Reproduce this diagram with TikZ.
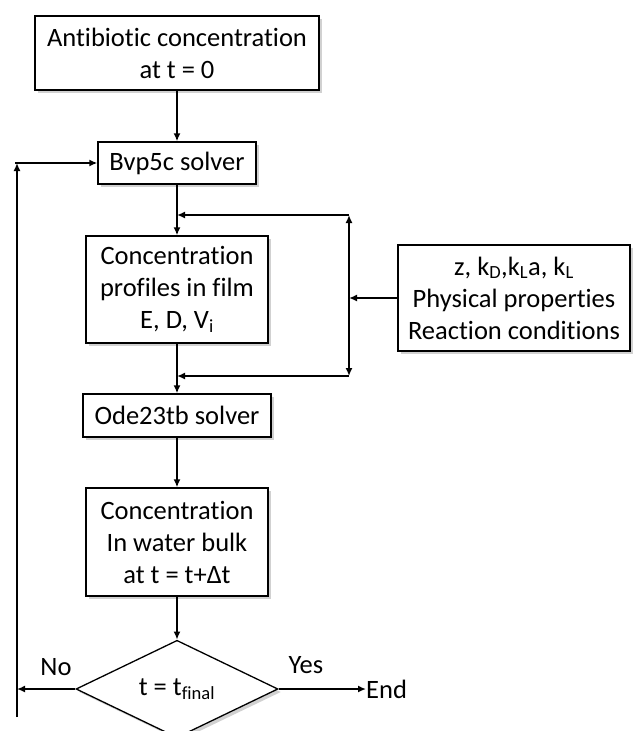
\documentclass[tikz,border=0pt]{standalone}
\usepackage{fontspec}
\setmainfont[Ligatures=NoCommon]{Carlito}
\usetikzlibrary{arrows.meta,shapes.geometric,shadows}
\begin{document}
\begin{tikzpicture}[x=1pt,y=-1pt,
  box/.style={draw=black,line width=1.3pt,fill=white,inner sep=0pt,align=center,
    font=\fontsize{26.5}{32}\selectfont,
    drop shadow={fill=black,opacity=0.18,shadow xshift=3pt,shadow yshift=-3pt}},
  dia/.style={draw=black,line width=1.3pt,fill=white,diamond,inner sep=0pt,
    font=\fontsize{26.5}{32}\selectfont,
    drop shadow={fill=black,opacity=0.18,shadow xshift=3pt,shadow yshift=-3pt}},
  lbl/.style={inner sep=0pt,font=\fontsize{26.5}{32}\selectfont},
  arr/.style={line width=1.8pt,-{Latex[length=8pt,width=7pt]}},
  ln/.style={line width=1.8pt}]
\useasboundingbox (0,0) rectangle (635,731);
\node[box,minimum width=284pt,minimum height=74pt] (init) at (177,53) {Antibiotic concentration\\at t = 0};
\node[box,minimum width=158pt,minimum height=42pt] (bvp) at (177,163) {Bvp5c solver};
\node[box,minimum width=182pt,minimum height=107pt] (prof) at (177,289.5) {Concentration\\profiles in film\\E, D, V\textsubscript{i}};
\node[box,minimum width=232pt,minimum height=106pt] (par) at (514,298) {z, k\textsubscript{D},k\textsubscript{L}a, k\textsubscript{L}\\Physical properties\\Reaction conditions};
\node[box,minimum width=188pt,minimum height=43pt] (ode) at (177,415.5) {Ode23tb solver};
\node[box,minimum width=182pt,minimum height=108pt] (bulk) at (177,542) {Concentration\\In water bulk\\at t = t+Δt};
\node[dia,minimum width=202pt,minimum height=82pt] (dec) at (177,689) {t = t\textsubscript{final}};
\node[lbl] (no) at (56,667) {No};
\node[lbl] (yes) at (306,665) {Yes};
\node[lbl,anchor=west] (end) at (366,689) {End};
% coordinates
\coordinate (j1) at (177,215);
\coordinate (j2) at (177,376);
\coordinate (r1) at (349,215);
\coordinate (r2) at (349,376);
\coordinate (rm) at (349,298);
\coordinate (lb) at (17,717);
\coordinate (lt) at (17,163);
\coordinate (ls) at (15,163);
\coordinate (ln) at (17,689);
% main flow
\draw[arr] (init) -- (bvp);
\draw[arr] (bvp) -- (prof);
\draw[arr] (prof) -- (ode);
\draw[arr] (ode) -- (bulk);
\draw[arr] (bulk) -- (dec);
% parameter feed
\draw[arr] (par.west|-rm) -- (rm);
\draw[arr] (rm) -- (r1);
\draw[arr] (rm) -- (r2);
\draw[arr] (r1) -- (j1);
\draw[arr] (r2) -- (j2);
% decision
\draw[arr] (dec.west) -- (ln);
\draw[arr] (dec.east) -- (end.west);
\draw[arr] (lb) -- (lt);
\draw[arr] (ls) -- (bvp.west);
\end{tikzpicture}
\end{document}
